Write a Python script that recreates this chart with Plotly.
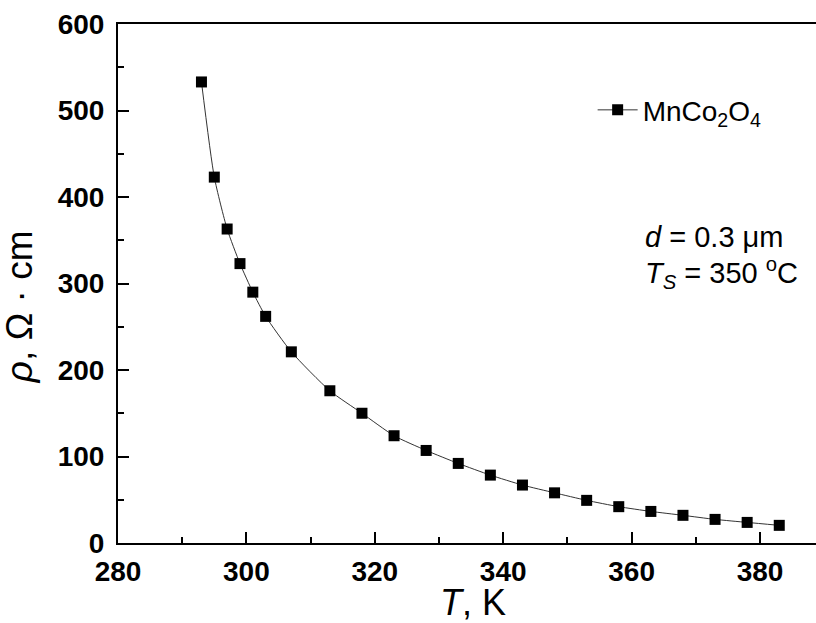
import plotly.graph_objects as go

T_K = [293, 295, 297, 299, 301, 303, 307, 313, 318, 323, 328, 333, 338, 343, 348, 353, 358, 363, 368, 373, 378, 383]
rho = [533, 423, 363, 323, 290, 262, 221, 176, 150, 124, 107, 92, 78.5, 67, 58, 49.3, 42, 36.5, 32, 27.3, 23.8, 20.4]
series_name = "MnCo<sub>2</sub>O<sub>4</sub>"

FONT = "Liberation Sans, Arial, sans-serif"

fig = go.Figure()
fig.add_trace(go.Scatter(
    x=T_K, y=rho, mode="lines+markers", name=series_name,
    line=dict(color="#333333", width=1, shape="spline", smoothing=0.6),
    marker=dict(symbol="square", size=11, color="black", line=dict(width=0)),
))

axis_common = dict(
    showgrid=False, zeroline=False, showline=True, linecolor="black", linewidth=2,
    ticks="inside", ticklen=11, tickwidth=2, tickcolor="black",
    tickfont=dict(family=FONT, size=28, color="black", weight="bold"),
)

fig.update_layout(
    width=816, height=623,
    margin=dict(l=118, r=0, t=24, b=80),
    paper_bgcolor="white", plot_bgcolor="white",
    font=dict(family=FONT, color="black"),
    showlegend=True,
    legend=dict(x=0.680, y=0.834, xanchor="left", yanchor="middle",
                bgcolor="rgba(0,0,0,0)", font=dict(family=FONT, size=28, color="black"),
                itemwidth=40),
    xaxis=dict(range=[280, 280 + 698 / 6.42], tick0=280, dtick=20, mirror=True,
               ticklabelstandoff=2,
               minor=dict(ticks="inside", ticklen=6, tickwidth=2, tickcolor="black", dtick=10),
               **axis_common),
    yaxis=dict(range=[0, 600], tick0=0, dtick=100, mirror=False,
               ticklabelstandoff=6,
               minor=dict(ticks="inside", ticklen=6, tickwidth=2, tickcolor="black", dtick=50),
               **axis_common),
    annotations=[
        dict(text="<i>T</i>, K", xref="paper", yref="paper", x=0.509, y=-0.114,
             xanchor="center", yanchor="middle", showarrow=False,
             font=dict(family=FONT, size=36, color="black")),
        dict(text="<i>ρ</i>, Ω · cm", xref="paper", yref="paper", x=-0.140, y=0.455,
             xanchor="center", yanchor="middle", showarrow=False, textangle=-90,
             font=dict(family=FONT, size=37, color="black")),
        dict(text="<i>d</i> = 0.3 μm", xref="paper", yref="paper", x=0.752, y=0.590,
             xanchor="left", yanchor="middle", showarrow=False,
             font=dict(family=FONT, size=29, color="black")),
        dict(text="<i>T</i><sub><i>S</i></sub> = 350 <sup>o</sup>C", xref="paper", yref="paper",
             x=0.752, y=0.520, xanchor="left", yanchor="middle", showarrow=False,
             font=dict(family=FONT, size=29, color="black")),
    ],
)

fig.write_html("out.html")
